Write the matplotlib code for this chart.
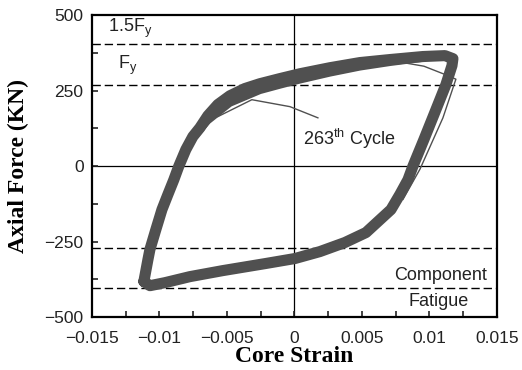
import matplotlib
matplotlib.use('Agg')
from matplotlib import pyplot as plt
from matplotlib.ticker import MultipleLocator

# Hysteresis loop (thick band)
loop_strain = [-0.01115, -0.01085, -0.01070, -0.01026, -0.00981, -0.00937, -0.00893,
               -0.00856, -0.00804, -0.00752, -0.00700, -0.00641, -0.00567, -0.00478,
               -0.00367, -0.00256, -0.00107, 0.00041, 0.00263, 0.00485, 0.00707,
               0.00952, 0.01115, 0.01174, 0.01167, 0.01122, 0.01048, 0.00959,
               0.00878, 0.00841, 0.00781, 0.00715, 0.00530, 0.00374, 0.00189,
               0.00004, -0.00219, -0.00530, -0.00774, -0.00959, -0.01070, -0.01115]
loop_force = [-382, -310, -276, -210, -144, -94, -45,
              0, 55, 98, 127, 167, 204, 233,
              257, 273, 290, 306, 326, 343, 353,
              363, 366, 356, 333, 270, 187, 88,
              0, -45, -94, -144, -220, -253, -283,
              -306, -323, -346, -366, -386, -396, -382]

# inner edge of the upper branch, where the cycles spread apart
inner_strain = [-0.00752, -0.00641, -0.00478, -0.00256, -0.00107, 0.00041,
                0.00263, 0.00485, 0.00707, 0.00952]
inner_force = [92, 150, 208, 250, 268, 285, 308, 328, 343, 357]

# 263rd cycle (thin line) and its leader
cycle_strain = [-0.00567, -0.00315, -0.00033, 0.00174]
cycle_force = [164, 220, 197, 160]
tip_strain = [0.00804, 0.00959, 0.01107, 0.01196, 0.01100, 0.00930, 0.00804]
tip_force = [343, 331, 305, 288, 160, -10, -110]

# Reference force levels
fy = 270
levels = [1.5 * fy, fy, -fy, -1.5 * fy]

x_ticks = [-0.015, -0.01, -0.005, 0, 0.005, 0.01, 0.015]
x_labels = ['\u22120.015', '\u22120.01', '\u22120.005', '0', '0.005', '0.01', '0.015']
y_ticks = [-500, -250, 0, 250, 500]
y_labels = ['\u2212500', '\u2212250', '0', '250', '500']


def main():
    plt.rcParams['font.family'] = ['Liberation Sans', 'DejaVu Sans']
    plt.rcParams['mathtext.fontset'] = 'custom'
    plt.rcParams['mathtext.rm'] = 'Liberation Sans'
    plt.rcParams['mathtext.it'] = 'Liberation Sans'

    fig = plt.figure(figsize=(5.22, 3.70), dpi=100)
    ax = fig.add_axes([0.176, 0.143, 0.776, 0.816])

    # Reference lines
    for lv in levels:
        ax.axhline(lv, color='black', lw=1.0, dashes=(6, 2.8), zorder=1)
    ax.axhline(0, color='black', lw=0.9, zorder=1)
    ax.axvline(0, color='black', lw=0.9, zorder=1)

    # Loop band
    band = '#505050'
    ax.plot(loop_strain, loop_force, color=band, lw=8,
            solid_joinstyle='round', solid_capstyle='round', zorder=2)
    ax.plot(inner_strain, inner_force, color=band, lw=5,
            solid_joinstyle='round', solid_capstyle='round', zorder=2)
    ax.plot(cycle_strain, cycle_force, color=band, lw=1.0, zorder=3)
    ax.plot(tip_strain, tip_force, color=band, lw=1.0, zorder=3)

    # Annotations
    txt = dict(fontsize=13, va='center', color='#222222')
    ax.text(-0.0138, 457, '1.5F$_\\mathregular{y}$', **txt)
    ax.text(-0.0131, 333, 'F$_\\mathregular{y}$', **txt)
    ax.text(0.0006, 90, '263$^\\mathregular{th}$ Cycle', **txt)
    ax.text(0.0143, -362, 'Component', ha='right', **txt)
    ax.text(0.0129, -447, 'Fatigue', ha='right', **txt)

    ax.set_xlim(-0.015, 0.015)
    ax.set_ylim(-500, 500)
    ax.set_xticks(x_ticks)
    ax.set_xticklabels(x_labels)
    ax.set_yticks(y_ticks)
    ax.set_yticklabels(y_labels)
    ax.xaxis.set_minor_locator(MultipleLocator(0.0025))
    ax.yaxis.set_minor_locator(MultipleLocator(125))
    ax.tick_params(which='both', direction='in', length=4, width=1.2,
                   top=False, right=False, labelsize=12.5, colors='#222222')
    ax.tick_params(axis='y', pad=6)
    ax.tick_params(axis='x', pad=10)
    for side in ax.spines.values():
        side.set_linewidth(1.6)

    ax.set_xlabel('Core Strain', family='Liberation Serif', fontweight='bold',
                  fontsize=17)
    ax.set_ylabel('Axial Force (KN)', family='Liberation Serif', fontweight='bold',
                  fontsize=17)
    ax.xaxis.set_label_coords(0.5, -0.095)
    ax.yaxis.set_label_coords(-0.155, 0.5)

    fig.savefig('out.png', dpi=100)


if __name__ == '__main__':
    main()
